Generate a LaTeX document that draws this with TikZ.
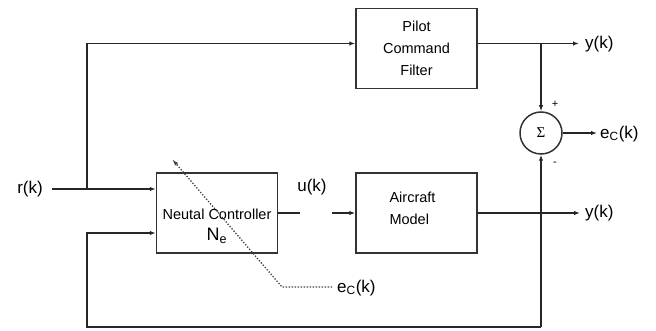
\documentclass[tikz,border=0pt]{standalone}
\usepackage{fontspec}
\setmainfont{Liberation Sans}
\newfontfamily\serifsym{Liberation Serif}
\usetikzlibrary{arrows.meta}
\begin{document}
\begin{tikzpicture}[x=1pt,y=-1pt,
  blk/.style={draw=black!80,line width=1.5pt,minimum width=121pt,minimum height=80pt,inner sep=0pt,align=center},
  wire/.style={line width=1.5pt,draw=black!85},
  arr/.style={wire,-{Latex[length=6pt,width=4.5pt]}},
  boxtxt/.style={font=\fontsize{14.5}{22}\selectfont},
  lbl/.style={font=\fontsize{17}{20}\selectfont,inner sep=1pt}]
\useasboundingbox (0,0) rectangle (656,331);
% blocks
\node[blk,boxtxt] (pilot) at (416.5,48.5) {Pilot\\Command\\Filter};
\node[blk] (air) at (416.5,213) {};
\node[boxtxt,align=left,anchor=west] (airtxt) at (386,208) {Aircraft\\Model};
\node[blk] (ctrl) at (217,213) {};
\node[boxtxt] (ctxt) at (217,214) {Neutal Controller};
\node[font=\fontsize{18}{20}\selectfont] (ne) at (217,236) {N\textsubscript{e}};
% sum
\node[draw=black!80,line width=1.5pt,circle,minimum size=42pt,inner sep=0pt,font=\serifsym\fontsize{15}{16}\selectfont] (sum) at (541,133) {Σ};
\node[font=\fontsize{11}{12}\selectfont,inner sep=0pt] (plus) at (555,104) {+};
\node[font=\fontsize{11}{12}\selectfont,inner sep=0pt] (minus) at (555,164) {-};
% labels
\node[lbl,anchor=east] (rk) at (44,189) {r(k)};
\node[lbl,anchor=west] (y1) at (584,44) {y(k)};
\node[lbl,anchor=west] (y2) at (584,213) {y(k)};
\node[lbl,anchor=west] (ec1) at (599,134) {e\textsubscript{C}(k)};
\node[lbl] (uk) at (312,187) {u(k)};
\node[lbl,anchor=west] (ec2) at (336,288) {e\textsubscript{C}(k)};
% coordinates
\coordinate (rin) at (52,189);
\coordinate (j1) at (87,189);
\coordinate (j2) at (541,43.5);
\coordinate (fb) at (541,327);
\coordinate (ugap1) at (300,213);
\coordinate (ugap2) at (332,213);
\coordinate (dstart) at (332,287);
\coordinate (bend) at (282,287);
\coordinate (tip) at (172,159);
% wires
\draw[arr] (rin) -- (ctrl.west |- rin);
\draw[arr] (j1) |- (pilot.west |- j2);
\draw[arr] (pilot.east |- j2) -- (579,43.5);
\draw[arr] (j2) -- (sum.north);
\draw[arr] (sum.east) -- (597,133);
\draw[wire] (ctrl.east) -- (ugap1);
\draw[arr] (ugap2) -- (air.west);
\draw[arr] (air.east) -- (580,213);
\draw[arr] (fb) -- (sum.south);
\draw[arr] (fb) -| (87,233) -- (ctrl.west |- 0,233);
% dotted adaptation arrow
\draw[line width=1.3pt,dash pattern=on 1.3pt off 1.7pt,black!75,-{Latex[length=7pt,width=4pt]}] (dstart) -- (bend) -- (tip);
\end{tikzpicture}
\end{document}
